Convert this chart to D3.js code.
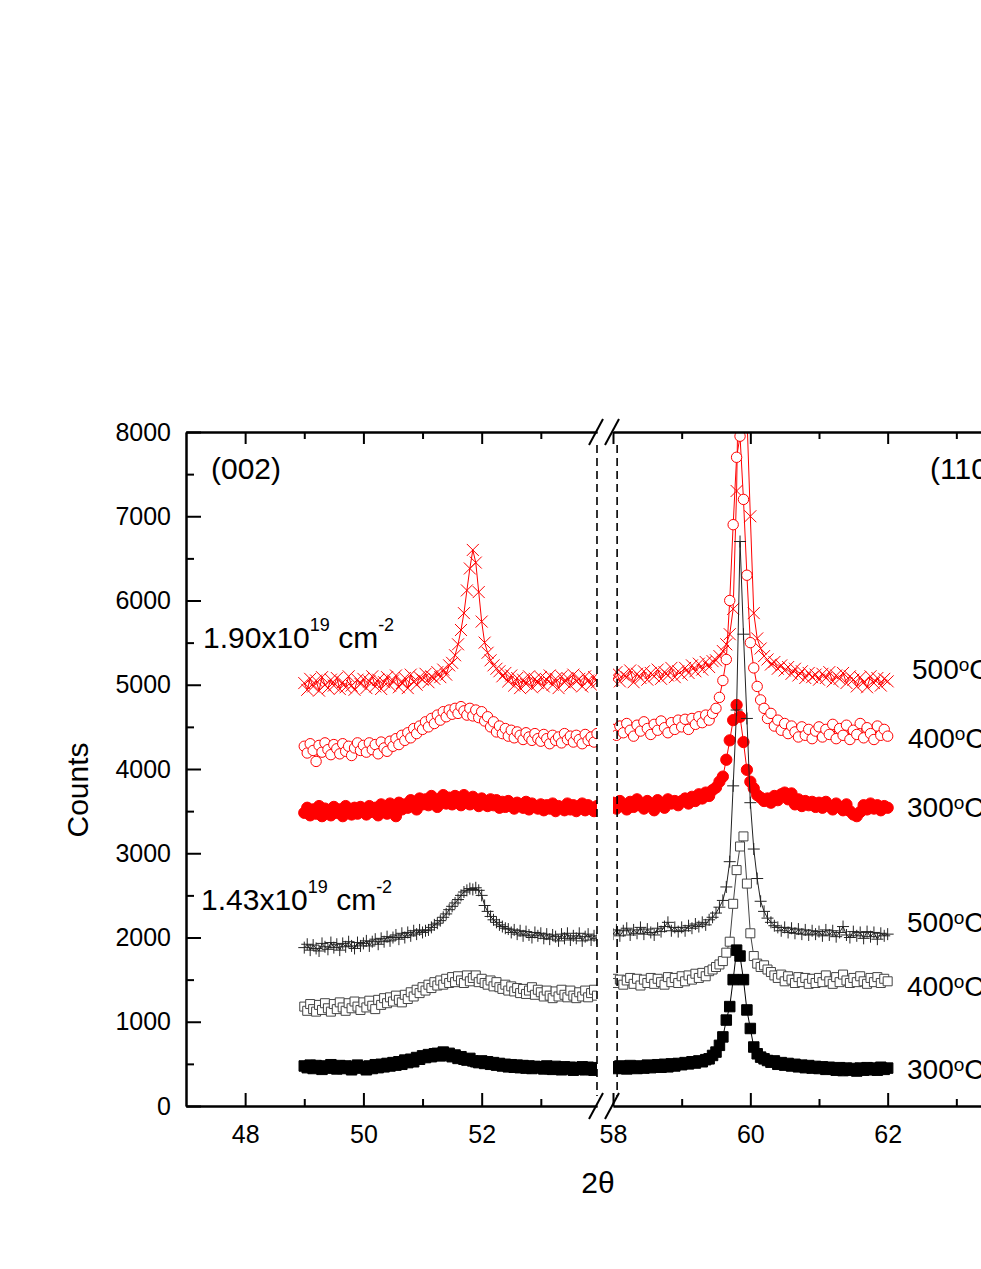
<!DOCTYPE html>
<html>
<head>
<meta charset="utf-8">
<script src="https://cdn.jsdelivr.net/npm/d3@7"></script>
<style>
  body { margin: 0; background: #fff; }
  svg text { font-family: "Liberation Sans", Arial, Helvetica, sans-serif; fill: #000; }
</style>
</head>
<body>
<div id="chart"></div>
<script>
// 2θ scan: left part (002) and right part (110), same step
const scanStep = 0.05;
const leftStart = 49.0, leftCount = 100;
const rightStart = 58.0, rightCount = 81;

const xMajorLeft = [48, 50, 52];
const xMinorLeft = [49, 51, 53];
const xMajorRight = [58, 60, 62];
const xMinorRight = [59, 61, 63];
const yMajor = [0, 1000, 2000, 3000, 4000, 5000, 6000, 7000, 8000];
const yMinor = [500, 1500, 2500, 3500, 4500, 5500, 6500, 7500];

const doseLabels = ["1.90", "1.43"];
const tempLabels = ["500", "400", "300", "500", "400", "300"];

// 1.90e19 cm-2, 500°C  (x)
const hi500Left = [
  5020, 4940, 5070, 4980, 5050, 4930, 5090, 5000, 4960, 5060, 4990, 5080, 4950, 5030, 4970, 5100, 4990, 4940, 5060, 5010,
  5070, 4960, 5040, 5100, 4980, 5060, 4950, 5030, 5090, 4990, 5050, 5110, 4970, 5020, 5080, 4960, 5120, 5040, 5000, 5090,
  5060, 5130, 5030, 5100, 5070, 5150, 5090, 5180, 5120, 5230, 5260, 5350, 5480, 5650, 5850, 6120, 6380, 6600, 6450, 6100,
  5750, 5500, 5380, 5290, 5230, 5190, 5160, 5100, 5140, 5040, 5110, 4990, 5080, 4960, 5060, 5010, 5100, 4970, 5070, 5020,
  5090, 4980, 5060, 5110, 5000, 5070, 4960, 5100, 5030, 5080, 4990, 5120, 5040, 5070, 4980, 5100, 5050, 5000, 5090, 5030
];
const hi500Right = [
  5060, 5150, 5040, 5120, 5090, 5170, 5030, 5130, 5080, 5160, 5060, 5140, 5100, 5180, 5070, 5150, 5110, 5200, 5090, 5160,
  5120, 5200, 5140, 5230, 5160, 5250, 5180, 5270, 5210, 5280, 5290, 5340, 5400, 5480, 5600, 5900, 7300, 9800, 10500, 8200,
  7000, 5850, 5550, 5430, 5340, 5300, 5240, 5270, 5190, 5230, 5170, 5210, 5130, 5190, 5110, 5160, 5080, 5140, 5090, 5120,
  5060, 5130, 5080, 5150, 5040, 5110, 5070, 5140, 5020, 5100, 5060, 4980, 5090, 5030, 4970, 5100, 5020, 5080, 4990, 5070, 5040
];

// 1.90e19 cm-2, 400°C  (open circles)
const hi400Left = [
  4270, 4190, 4300, 4220, 4090, 4280, 4200, 4310, 4230, 4170, 4290, 4240, 4180, 4300, 4210, 4270, 4160, 4250, 4310, 4220,
  4280, 4200, 4310, 4230, 4290, 4180, 4320, 4250, 4210, 4330, 4270, 4360, 4290, 4400, 4340, 4430, 4370, 4480, 4420, 4510,
  4470, 4560, 4500, 4600, 4540, 4640, 4580, 4680, 4620, 4700, 4650, 4720, 4660, 4740, 4690, 4640, 4720, 4630, 4700, 4610,
  4680, 4570, 4620, 4500, 4560, 4440, 4510, 4420, 4480, 4390, 4460, 4370, 4440, 4400, 4350, 4430, 4380, 4340, 4420, 4360,
  4330, 4410, 4360, 4300, 4400, 4340, 4380, 4310, 4420, 4350, 4390, 4320, 4400, 4350, 4300, 4410, 4340, 4380, 4320, 4420
];
const hi400Right = [
  4470, 4400, 4510, 4430, 4540, 4460, 4390, 4520, 4450, 4560, 4480, 4410, 4530, 4460, 4570, 4490, 4430, 4550, 4470, 4580,
  4500, 4590, 4470, 4600, 4530, 4620, 4550, 4640, 4580, 4660, 4720, 4850, 5050, 5300, 6000, 6900, 7700, 7950, 7200, 6300,
  5500, 5200, 4980, 4820, 4720, 4600, 4660, 4510, 4580, 4460, 4540, 4420, 4510, 4440, 4380, 4500, 4400, 4470, 4360, 4450,
  4500, 4380, 4470, 4410, 4530, 4360, 4480, 4400, 4520, 4350, 4460, 4410, 4540, 4370, 4490, 4420, 4350, 4510, 4400, 4470, 4390
];

// 1.90e19 cm-2, 300°C  (filled circles)
const hi300Left = [
  3480, 3540, 3450, 3520, 3470, 3560, 3440, 3530, 3490, 3450, 3550, 3480, 3520, 3440, 3560, 3490, 3460, 3540, 3470, 3550,
  3500, 3460, 3560, 3490, 3540, 3450, 3580, 3500, 3470, 3590, 3530, 3440, 3600, 3520, 3580, 3540, 3630, 3560, 3520, 3650,
  3580, 3640, 3570, 3680, 3600, 3550, 3650, 3690, 3590, 3660, 3580, 3680, 3610, 3570, 3690, 3620, 3580, 3670, 3600, 3560,
  3650, 3580, 3560, 3640, 3570, 3630, 3540, 3610, 3550, 3620, 3590, 3530, 3600, 3560, 3540, 3610, 3520, 3590, 3550, 3530,
  3580, 3510, 3570, 3530, 3590, 3500, 3560, 3540, 3510, 3590, 3520, 3570, 3500, 3550, 3590, 3510, 3570, 3530, 3500, 3560
];
const hi300Right = [
  3600, 3530, 3620, 3560, 3520, 3610, 3550, 3640, 3570, 3530, 3620, 3560, 3510, 3630, 3580, 3540, 3640, 3590, 3620, 3570,
  3620, 3650, 3590, 3670, 3620, 3700, 3650, 3720, 3680, 3750, 3780, 3850, 3910, 4110, 4340, 4580, 4760, 4620, 4320, 3990,
  3850, 3770, 3690, 3660, 3620, 3650, 3600, 3680, 3630, 3700, 3720, 3640, 3710, 3580, 3640, 3560, 3620, 3570, 3610, 3550,
  3600, 3540, 3610, 3560, 3520, 3590, 3550, 3510, 3580, 3500, 3460, 3440, 3490, 3570, 3520, 3590, 3530, 3570, 3510, 3560, 3540
];

// 1.43e19 cm-2, 500°C  (+)
const lo500Left = [
  1880, 1920, 1850, 1910, 1870, 1840, 1930, 1890, 1860, 1940, 1880, 1920, 1850, 1930, 1890, 1950, 1900, 1870, 1940, 1900,
  1930, 1960, 1900, 1950, 1980, 1920, 1990, 1950, 2010, 1960, 2000, 2030, 1980, 2050, 2000, 2060, 2020, 2080, 2040, 2090,
  2060, 2080, 2090, 2120, 2150, 2170, 2200, 2240, 2280, 2330, 2370, 2410, 2450, 2500, 2540, 2560, 2580, 2570, 2590, 2560,
  2500, 2380, 2310, 2250, 2210, 2180, 2150, 2130, 2110, 2100, 2060, 2090, 2040, 2080, 2020, 2070, 2030, 2000, 2060, 2020,
  2050, 1990, 2040, 1980, 2030, 2010, 1960, 2040, 1990, 2050, 1970, 2020, 1990, 2050, 1960, 2010, 2040, 1970, 2020, 1990
];
const lo500Right = [
  2040, 2090, 2020, 2080, 2110, 2030, 2090, 2050, 2120, 2040, 2100, 2060, 2030, 2110, 2070, 2130, 2180, 2080, 2120, 2070,
  2120, 2080, 2140, 2110, 2160, 2130, 2180, 2150, 2210, 2240, 2290, 2360, 2440, 2600, 2900, 3800, 4700, 6700, 5600, 4600,
  3600, 3050, 2700, 2430, 2310, 2230, 2180, 2140, 2120, 2080, 2120, 2060, 2110, 2050, 2100, 2040, 2090, 2030, 2080, 2040,
  2070, 2020, 2090, 2030, 2080, 2010, 2060, 2130, 2030, 2000, 2070, 2020, 2060, 1990, 2070, 2010, 2060, 1980, 2050, 2020, 2040
];

// 1.43e19 cm-2, 400°C  (open squares)
const lo400Left = [
  1180, 1130, 1210, 1150, 1120, 1200, 1140, 1220, 1160, 1120, 1210, 1150, 1230, 1170, 1130, 1220, 1160, 1240, 1180, 1140,
  1230, 1170, 1250, 1190, 1150, 1260, 1200, 1280, 1220, 1290, 1240, 1310, 1260, 1230, 1320, 1270, 1350, 1300, 1380, 1340,
  1410, 1370, 1440, 1400, 1470, 1430, 1490, 1440, 1510, 1460, 1530, 1470, 1540, 1490, 1460, 1550, 1480, 1520, 1550, 1470,
  1510, 1460, 1440, 1490, 1420, 1470, 1410, 1390, 1440, 1370, 1420, 1360, 1400, 1340, 1390, 1330, 1370, 1410, 1320, 1380,
  1350, 1300, 1370, 1310, 1280, 1360, 1300, 1380, 1320, 1290, 1370, 1310, 1280, 1350, 1300, 1370, 1290, 1340, 1380, 1310
];
const lo400Right = [
  1510, 1460, 1500, 1440, 1490, 1520, 1450, 1510, 1430, 1500, 1460, 1520, 1450, 1510, 1470, 1440, 1530, 1470, 1520, 1460,
  1540, 1480, 1550, 1500, 1570, 1520, 1580, 1540, 1600, 1620, 1650, 1680, 1720, 1820, 1950, 2400, 2800, 3080, 3200, 2640,
  2050, 1780, 1690, 1650, 1670, 1620, 1590, 1550, 1520, 1560, 1480, 1540, 1500, 1460, 1530, 1470, 1520, 1450, 1510, 1460,
  1520, 1470, 1550, 1480, 1450, 1530, 1470, 1560, 1490, 1460, 1520, 1470, 1540, 1480, 1450, 1520, 1470, 1530, 1460, 1510, 1480
];

// 1.43e19 cm-2, 300°C  (filled squares)
const lo300Left = [
  475, 455, 485, 445, 480, 460, 435, 475, 450, 490, 455, 440, 480, 445, 475, 455, 430, 470, 485, 450,
  465, 430, 475, 445, 490, 455, 495, 465, 505, 475, 515, 485, 525, 495, 545, 515, 555, 525, 575, 555,
  595, 575, 610, 585, 620, 625, 595, 640, 605, 625, 585, 605, 565, 585, 555, 545, 565, 535, 525, 515,
  535, 505, 525, 495, 515, 485, 505, 475, 495, 465, 490, 460, 485, 455, 480, 450, 475, 445, 470, 455,
  465, 440, 475, 445, 435, 470, 445, 430, 465, 440, 460, 425, 455, 435, 465, 430, 460, 435, 425, 455
];
const lo300Right = [
  465, 445, 475, 450, 440, 480, 455, 445, 475, 450, 485, 455, 470, 490, 460, 495, 465, 500, 475, 505,
  490, 515, 500, 525, 510, 535, 525, 550, 560, 600, 640, 720, 820, 1020, 1180, 1500, 1850, 1780, 1500, 1140,
  920, 700, 620, 580, 560, 540, 520, 535, 495, 515, 485, 505, 475, 495, 465, 485, 455, 480, 450, 470,
  445, 465, 435, 460, 440, 425, 455, 420, 450, 425, 445, 415, 450, 425, 455, 430, 450, 425, 460, 435, 450
];

const width = 981, height = 1269;

const xL = d3.scaleLinear().domain([47, 53.95]).range([186, 597]);
const xR = d3.scaleLinear().domain([58, 64]).range([613, 1025]);
const y = d3.scaleLinear().domain([0, 8000]).range([1106, 432]);

const leftX = d3.range(leftCount).map(i => +(leftStart + i * scanStep).toFixed(2));
const rightX = d3.range(rightCount).map(i => +(rightStart + i * scanStep).toFixed(2));

const series = [
  { left: hi500Left, right: hi500Right, marker: "times", color: "#ff0000" },
  { left: hi400Left, right: hi400Right, marker: "circleOpen", color: "#ff0000" },
  { left: hi300Left, right: hi300Right, marker: "circle", color: "#ff0000" },
  { left: lo500Left, right: lo500Right, marker: "plus", color: "#222" },
  { left: lo400Left, right: lo400Right, marker: "squareOpen", color: "#444" },
  { left: lo300Left, right: lo300Right, marker: "square", color: "#000" }
];

const svg = d3.select("#chart").append("svg")
  .attr("width", width)
  .attr("height", height);

const defs = svg.append("defs");
defs.append("clipPath").attr("id", "clipL").append("rect")
  .attr("x", xL.range()[0]).attr("y", y(8000))
  .attr("width", xL.range()[1] - xL.range()[0]).attr("height", y(0) - y(8000));
defs.append("clipPath").attr("id", "clipR").append("rect")
  .attr("x", xR.range()[0]).attr("y", y(8000))
  .attr("width", width - xR.range()[0]).attr("height", y(0) - y(8000));

function markerPath(type) {
  if (type === "times") return "M-6,-6L6,6M-6,6L6,-6";
  if (type === "plus") return "M-6,0H6M0,-6V6";
  if (type === "circleOpen") return d3.symbol(d3.symbolCircle, 85)();
  if (type === "circle") return d3.symbol(d3.symbolCircle, 100)();
  if (type === "squareOpen") return d3.symbol(d3.symbolSquare, 81)();
  return d3.symbol(d3.symbolSquare, 110)();
}

function drawPart(xScale, xs, key, clipId) {
  const g = svg.append("g").attr("clip-path", `url(#${clipId})`);
  series.forEach(s => {
    const pts = xs.map((x, i) => ({ x, v: s[key][i] }));
    const line = d3.line().x(d => xScale(d.x)).y(d => y(d.v));
    g.append("path")
      .datum(pts)
      .attr("fill", "none")
      .attr("stroke", s.color)
      .attr("stroke-width", 1)
      .attr("d", line);

    const filled = s.marker === "circle" || s.marker === "square";
    const open = s.marker === "circleOpen" || s.marker === "squareOpen";
    g.append("g").selectAll("path")
      .data(pts)
      .enter()
      .append("path")
      .attr("transform", d => `translate(${xScale(d.x)},${y(d.v)})`)
      .attr("d", markerPath(s.marker))
      .attr("fill", filled ? s.color : (open ? "#fff" : "none"))
      .attr("stroke", s.color)
      .attr("stroke-width", 1);
  });
}

drawPart(xL, leftX, "left", "clipL");
drawPart(xR, rightX, "right", "clipR");

// break guides
const dashTop = y(8000) + 13, dashBottom = y(0) - 10;
[xL(53.95), xR(58.06)].forEach(xp => {
  svg.append("line")
    .attr("x1", xp).attr("x2", xp)
    .attr("y1", dashTop).attr("y2", dashBottom)
    .attr("stroke", "#000")
    .attr("stroke-width", 1.6)
    .attr("stroke-dasharray", "8,5");
});

// axes
function styleAxis(g) {
  g.selectAll(".domain").attr("stroke-width", 2);
  g.selectAll(".tick line").attr("stroke-width", 2);
  g.selectAll("text").style("font-size", "25px").attr("font-family", null);
}

[[xL, xMajorLeft, xMinorLeft], [xR, xMajorRight, xMinorRight]].forEach(([sc, major, minor]) => {
  svg.append("g")
    .attr("transform", `translate(0,${y(0)})`)
    .call(d3.axisBottom(sc).tickValues(major).tickSize(-13).tickSizeOuter(0).tickPadding(19).tickFormat(d3.format("d")))
    .call(styleAxis);
  svg.append("g")
    .attr("transform", `translate(0,${y(0)})`)
    .call(d3.axisBottom(sc).tickValues(minor).tickSize(-7).tickSizeOuter(0).tickFormat(""))
    .call(styleAxis);
  svg.append("g")
    .attr("transform", `translate(0,${y(8000)})`)
    .call(d3.axisTop(sc).tickValues(major).tickSize(-12).tickSizeOuter(0).tickFormat(""))
    .call(styleAxis);
  svg.append("g")
    .attr("transform", `translate(0,${y(8000)})`)
    .call(d3.axisTop(sc).tickValues(minor).tickSize(-7).tickSizeOuter(0).tickFormat(""))
    .call(styleAxis);
});

svg.append("g")
  .attr("transform", `translate(${xL.range()[0]},0)`)
  .call(d3.axisLeft(y).tickValues(yMajor).tickSize(-15).tickSizeOuter(0).tickPadding(15).tickFormat(d3.format("d")))
  .call(styleAxis);
svg.append("g")
  .attr("transform", `translate(${xL.range()[0]},0)`)
  .call(d3.axisLeft(y).tickValues(yMinor).tickSize(-8).tickSizeOuter(0).tickFormat(""))
  .call(styleAxis);

// break slashes on top and bottom axes
[y(8000), y(0)].forEach(ay => {
  [xL(53.95) - 1, xR(58) - 1].forEach(cx => {
    svg.append("line")
      .attr("x1", cx - 7).attr("y1", ay + 13)
      .attr("x2", cx + 7).attr("y2", ay - 13)
      .attr("stroke", "#000")
      .attr("stroke-width", 2);
  });
});

// axis titles
svg.append("text")
  .attr("transform", "translate(88,790) rotate(-90)")
  .attr("text-anchor", "middle")
  .style("font-size", "30px")
  .text("Counts");

svg.append("text")
  .attr("x", 598).attr("y", 1193)
  .attr("text-anchor", "middle")
  .style("font-size", "30px")
  .text("2θ");

// annotations (the right-hand ones run past the edge, as in the original figure)
svg.append("text").attr("x", 211).attr("y", 479).style("font-size", "30px").text("(002)");
svg.append("text").attr("x", 930).attr("y", 479).style("font-size", "30px").text("(110)");

function doseText(x, yy, mant) {
  const t = svg.append("text").attr("x", x).attr("y", yy).style("font-size", "30px");
  t.append("tspan").text(mant + "x10");
  t.append("tspan").attr("dy", -17).style("font-size", "18px").text("19");
  t.append("tspan").attr("dy", 17).text(" cm");
  t.append("tspan").attr("dy", -17).style("font-size", "18px").text("-2");
}
doseText(203, 648, doseLabels[0]);
doseText(201, 910, doseLabels[1]);

const tempPos = [[912, 679], [908, 748], [907, 817], [907, 932], [907, 996], [907, 1079]];
tempLabels.forEach((lab, i) => {
  const t = svg.append("text").attr("x", tempPos[i][0]).attr("y", tempPos[i][1]).style("font-size", "28px");
  t.append("tspan").text(lab);
  t.append("tspan").attr("dy", -8).style("font-size", "19px").text("o");
  t.append("tspan").attr("dy", 8).text("C");
});
</script>
</body>
</html>
